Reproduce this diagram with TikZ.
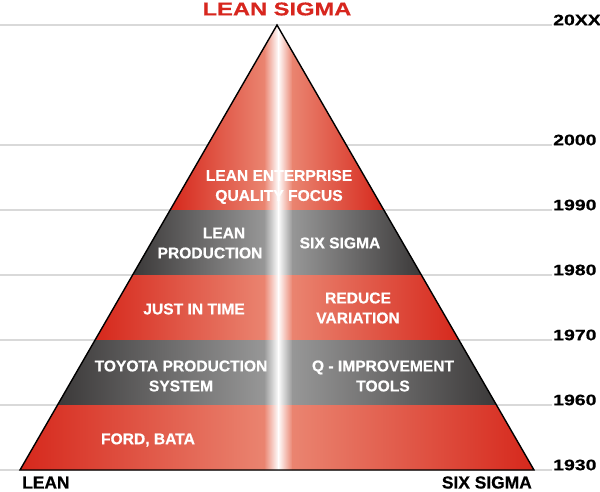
\documentclass[tikz,border=0pt]{standalone}
\usepackage{fontspec}
\setmainfont{Liberation Sans}
\newfontfamily\heavyfont{Liberation Sans}[BoldFeatures={FakeBold=0.6}]
\newfontfamily\widefont{Liberation Sans}[FakeStretch=1.28,BoldFeatures={FakeBold=0.5}]
\definecolor{redE}{HTML}{D6281C}
\definecolor{redM}{HTML}{EA8470}
\definecolor{grayE}{HTML}{3B3939}
\definecolor{grayM}{HTML}{979797}
\definecolor{gridline}{HTML}{D9D9D9}
\definecolor{titlered}{HTML}{D7261E}
\newcommand\pyrband[6]{%
  \shade[left color=#5,right color=#6] (#3,#1) rectangle (264.5,#2);
  \shade[left color=#6,right color=white] (264,#1) rectangle (278.5,#2);
  \shade[left color=white,right color=#6] (278,#1) rectangle (292.5,#2);
  \shade[left color=#6,right color=#5] (292,#1) rectangle (#4,#2);
}
\begin{document}
\begin{tikzpicture}[x=1pt,y=-1pt,
  yearlabel/.style={anchor=west,inner sep=0pt,font=\widefont\bfseries\fontsize{15.2}{18}\selectfont},
  bandtext/.style={text=white,inner sep=0pt,align=center,font=\heavyfont\bfseries\fontsize{15.6}{20}\selectfont},
  axislabel/.style={inner sep=0pt,font=\heavyfont\bfseries\fontsize{17.4}{20}\selectfont},
  gridrule/.style={draw=gridline,line width=2pt},
  outline/.style={draw=black,line width=1.4pt,line join=miter}]
\useasboundingbox (0,0) rectangle (600,491);
% timeline rules
\foreach \yy in {25,145,210,275,340,405,470}{
  \draw[gridrule] (0,\yy) -- (552,\yy);
}
% pyramid
\coordinate (apex) at (277,25);
\coordinate (bl) at (20,470);
\coordinate (br) at (534,470);
\begin{scope}
  \clip (apex) -- (bl) -- (br) -- cycle;
  \pyrband{20}{210.5}{170}{384}{redE}{redM}
  \pyrband{210}{275.5}{133}{421}{grayE}{grayM}
  \pyrband{275}{340.5}{95}{459}{redE}{redM}
  \pyrband{340}{405.5}{57}{497}{grayE}{grayM}
  \pyrband{405}{471}{20}{534}{redE}{redM}
\end{scope}
\draw[outline] (apex) -- (bl) -- (br) -- cycle;
% band texts
\node[bandtext] (le) at (279,187) {LEAN ENTERPRISE\\QUALITY FOCUS};
\node[bandtext] (lp1) at (224,233) {LEAN};
\node[bandtext] (lp2) at (210,253) {PRODUCTION};
\node[bandtext] (ss) at (340,243) {SIX SIGMA};
\node[bandtext] (jit) at (194,309) {JUST IN TIME};
\node[bandtext] (rv) at (358,308) {REDUCE\\VARIATION};
\node[bandtext] (tps) at (181,376) {TOYOTA PRODUCTION\\SYSTEM};
\node[bandtext] (qit) at (383,376) {Q - IMPROVEMENT\\TOOLS};
\node[bandtext] (fb) at (148,440) {FORD, BATA};
% title and axis
\node[inner sep=0pt,text=titlered,font=\widefont\bfseries\fontsize{18.5}{20}\selectfont] (title) at (277,9) {LEAN SIGMA};
\node[axislabel,anchor=west] (lean) at (22,482.5) {LEAN};
\node[axislabel,anchor=east] (six) at (532,482.5) {SIX SIGMA};
% years
\node[yearlabel] (y20xx) at (553,20) {20XX};
\node[yearlabel] (y2000) at (553,140) {2000};
\node[yearlabel] (y1990) at (553,205) {1990};
\node[yearlabel] (y1980) at (553,270) {1980};
\node[yearlabel] (y1970) at (553,335) {1970};
\node[yearlabel] (y1960) at (553,400) {1960};
\node[yearlabel] (y1930) at (553,465) {1930};
\end{tikzpicture}
\end{document}
